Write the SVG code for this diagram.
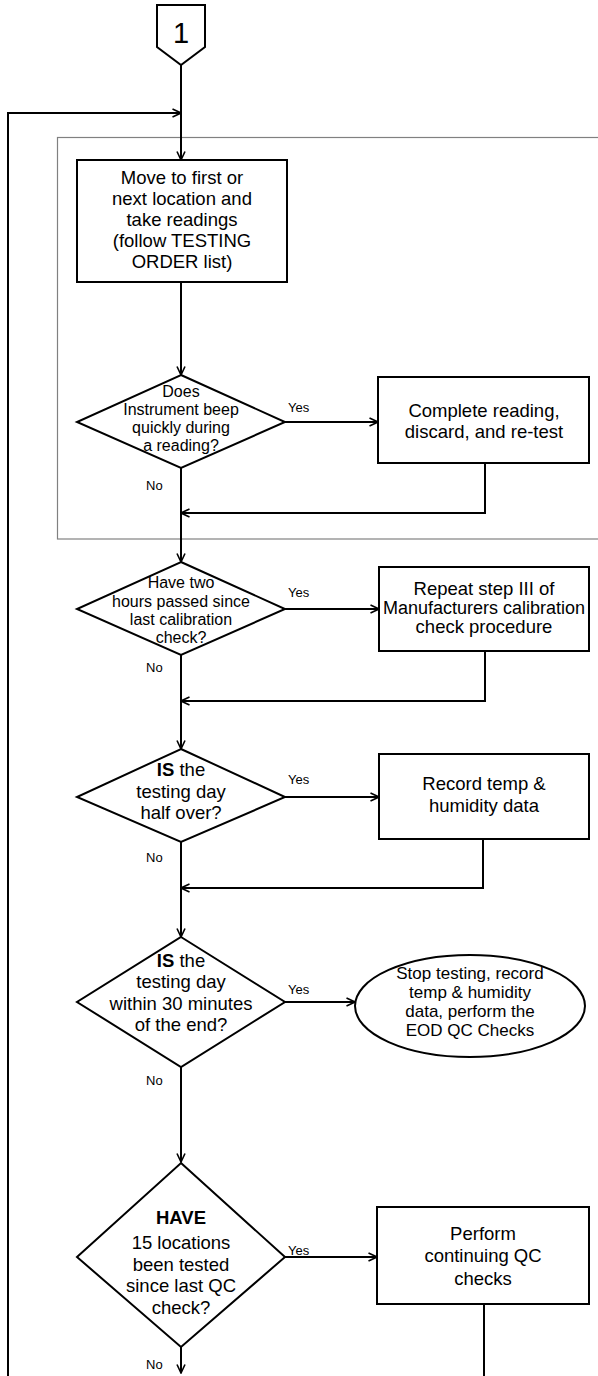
<svg xmlns="http://www.w3.org/2000/svg" width="598" height="1376" viewBox="0 0 598 1376">
<style>
.s{fill:#fff;stroke:#000;stroke-width:2}
.c{fill:none;stroke:#000;stroke-width:2}
text{font-family:"Liberation Sans",Arial,sans-serif;fill:#000;text-anchor:middle}
.b{font-size:18.5px}
.d{font-size:16px}
.l{font-size:13px;text-anchor:start}
</style>
<defs>
<marker id="a" viewBox="0 0 10 10" refX="9.5" refY="5" markerWidth="10" markerHeight="10" markerUnits="userSpaceOnUse" orient="auto">
<path d="M1,1 L9.5,5 L1,9" fill="none" stroke="#000" stroke-width="1.6"/>
</marker>
</defs>
<rect x="57.5" y="137.5" width="560" height="401.5" fill="none" stroke="#808080" stroke-width="1.2"/>
<g id="connectors">
<path class="c" d="M8,1376 V113 H181" marker-end="url(#a)"/>
<path class="c" d="M181,65 V160" marker-end="url(#a)"/>
<path class="c" d="M181,282 V375" marker-end="url(#a)"/>
<path class="c" d="M285,422 H378" marker-end="url(#a)"/>
<path class="c" d="M485,463 V513 H181" marker-end="url(#a)"/>
<path class="c" d="M181,468 V562" marker-end="url(#a)"/>
<path class="c" d="M285,609 H379" marker-end="url(#a)"/>
<path class="c" d="M485,651 V701 H181" marker-end="url(#a)"/>
<path class="c" d="M181,655 V749" marker-end="url(#a)"/>
<path class="c" d="M285,797 H379" marker-end="url(#a)"/>
<path class="c" d="M483,839 V888 H181" marker-end="url(#a)"/>
<path class="c" d="M181,842 V937" marker-end="url(#a)"/>
<path class="c" d="M285,1002 H355" marker-end="url(#a)"/>
<path class="c" d="M181,1067 V1162" marker-end="url(#a)"/>
<path class="c" d="M285,1257 H377" marker-end="url(#a)"/>
<path class="c" d="M484,1304 V1376"/>
<path class="c" d="M181,1347 V1373" marker-end="url(#a)"/>
<text class="l" x="288" y="412">Yes</text>
<text class="l" x="146" y="490">No</text>
<text class="l" x="288" y="597">Yes</text>
<text class="l" x="146" y="672">No</text>
<text class="l" x="288" y="784">Yes</text>
<text class="l" x="146" y="862">No</text>
<text class="l" x="288" y="994">Yes</text>
<text class="l" x="146" y="1085">No</text>
<text class="l" x="288" y="1255">Yes</text>
<text class="l" x="146" y="1369">No</text>
</g>
<g id="start">
<path class="s" d="M157,5 H205 V47 L181,65 L157,47 Z"/>
<text x="181" y="43" style="font-size:29px">1</text>
</g>
<g id="move">
<rect class="s" x="77" y="160" width="210" height="122"/>
<text class="b" x="182" y="184">Move to first or</text>
<text class="b" x="182" y="205">next location and</text>
<text class="b" x="182" y="226">take readings</text>
<text class="b" x="182" y="247">(follow TESTING</text>
<text class="b" x="182" y="268">ORDER list)</text>
</g>
<g id="beep">
<path class="s" d="M181,375 L285,422 L181,468 L77,422 Z"/>
<text class="d" x="181" y="397">Does</text>
<text class="d" x="181" y="415">Instrument beep</text>
<text class="d" x="181" y="433">quickly during</text>
<text class="d" x="181" y="451">a reading?</text>
</g>
<g id="complete">
<rect class="s" x="378" y="377" width="211" height="86"/>
<text class="b" x="484" y="417">Complete reading,</text>
<text class="b" x="484" y="438">discard, and re-test</text>
</g>
<g id="twohours">
<path class="s" d="M181,562 L285,609 L181,655 L77,609 Z"/>
<text class="d" x="181" y="588">Have two</text>
<text class="d" x="181" y="607">hours passed since</text>
<text class="d" x="181" y="625">last calibration</text>
<text class="d" x="181" y="643">check?</text>
</g>
<g id="repeat">
<rect class="s" x="379" y="567" width="210" height="84"/>
<text class="b" x="484" y="595">Repeat step III of</text>
<text x="484" y="614" style="font-size:18px">Manufacturers calibration</text>
<text class="b" x="484" y="633">check procedure</text>
</g>
<g id="halfover">
<path class="s" d="M181,749 L285,797 L181,842 L77,797 Z"/>
<text class="b" x="181" y="776"><tspan font-weight="bold">IS</tspan> the</text>
<text class="b" x="181" y="798">testing day</text>
<text class="b" x="181" y="819">half over?</text>
</g>
<g id="record">
<rect class="s" x="379" y="754" width="210" height="85"/>
<text class="b" x="484" y="790">Record temp &amp;</text>
<text class="b" x="484" y="812">humidity data</text>
</g>
<g id="end30">
<path class="s" d="M181,937 L285,1002 L181,1067 L77,1002 Z"/>
<text class="b" x="181" y="967"><tspan font-weight="bold">IS</tspan> the</text>
<text class="b" x="181" y="988">testing day</text>
<text class="b" x="181" y="1010">within 30 minutes</text>
<text class="b" x="181" y="1031">of the end?</text>
</g>
<g id="stop">
<ellipse class="s" cx="470" cy="1006" rx="115" ry="51"/>
<text x="470" y="979" style="font-size:17px">Stop testing, record</text>
<text x="470" y="998" style="font-size:17px">temp &amp; humidity</text>
<text x="470" y="1017" style="font-size:17px">data, perform the</text>
<text x="470" y="1036" style="font-size:17px">EOD QC Checks</text>
</g>
<g id="fifteen">
<path class="s" d="M181,1163 L285,1257 L181,1347 L77,1257 Z"/>
<text class="b" x="181" y="1224" font-weight="bold">HAVE</text>
<text class="b" x="181" y="1249">15 locations</text>
<text class="b" x="181" y="1271">been tested</text>
<text class="b" x="181" y="1292">since last QC</text>
<text class="b" x="181" y="1314">check?</text>
</g>
<g id="qc">
<rect class="s" x="377" y="1207" width="212" height="97"/>
<text class="b" x="483" y="1240">Perform</text>
<text class="b" x="483" y="1262">continuing QC</text>
<text class="b" x="483" y="1285">checks</text>
</g>
</svg>
